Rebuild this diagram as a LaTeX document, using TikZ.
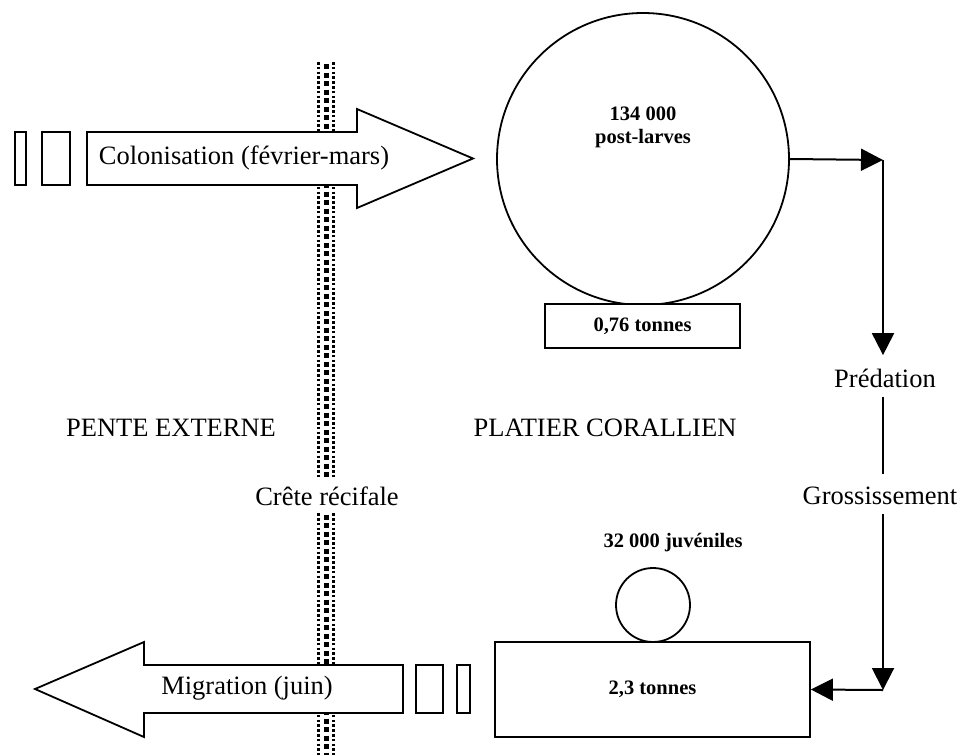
\documentclass[tikz,border=0pt]{standalone}
\usepackage{fontspec}
\setmainfont{Liberation Serif}
\usepackage{tikz}
\usetikzlibrary{arrows.meta, positioning}
\tikzstyle{stock}     = [draw=black, line width=1.8pt, fill=white, text centered]
\tikzstyle{bigtext}   = [font=\fontsize{26.5}{30}\selectfont]
\tikzstyle{smalltext} = [font=\fontsize{20.5}{23}\selectfont\bfseries]
\tikzstyle{bigarrow}  = [draw=black, line width=1.8pt, fill=white, line join=miter]
\tikzstyle{flow}      = [line width=2pt, -{Triangle[length=22pt,width=22pt]}]
\tikzstyle{crestdots} = [line width=2.6pt, dash pattern=on 2.6pt off 2.2pt]
\tikzstyle{crestmid}  = [line width=5pt, dash pattern=on 5pt off 3.5pt]
\tikzset{every node/.style={align=center}}

\begin{document}
\begin{tikzpicture}[x=1pt, y=-1pt]
    \useasboundingbox (0,0) rectangle (963,755);

    % crete recifale
    \draw [crestdots] (318.5,62) -- (318.5,755);
    \draw [crestdots] (333.5,62) -- (333.5,755);
    \draw [crestmid]  (326,64) -- (326,755);

    % colonisation / migration
    \draw [bigarrow] (87,132) -- (357,132) -- (357,109) -- (473,158.5) -- (357,208) -- (357,185) -- (87,185) -- cycle;
    \draw [bigarrow] (403,665) -- (144,665) -- (144,642) -- (35,689) -- (144,737) -- (144,713) -- (403,713) -- cycle;
    \node (colo) at (244,158)  [bigtext] {Colonisation (février-mars)};
    \node (migr) at (247,688)  [bigtext] {Migration (juin)};
    \node (in1)  at (20.5,158.5) [stock, minimum width=11pt, minimum height=53pt] {};
    \node (in2)  at (56,158.5)   [stock, minimum width=28pt, minimum height=53pt] {};
    \node (out1) at (429.5,689)  [stock, minimum width=27pt, minimum height=48pt] {};
    \node (out2) at (463.5,689)  [stock, minimum width=13pt, minimum height=48pt] {};

    % stocks du platier
    \node (larves)   at (643,159)    [stock, circle, minimum size=292pt, inner sep=0pt] {};
    \node (nblarves) at (643,127)    [smalltext] {134 000\\post-larves};
    \node (biom1)    at (642.5,326)  [stock, smalltext, minimum width=195pt, minimum height=44pt] {0,76 tonnes};
    \node (juv)      at (653,605)    [stock, circle, minimum size=74pt, inner sep=0pt] {};
    \node (nbjuv)    at (673,543)    [smalltext] {32 000 juvéniles};
    \node (biom2)    at (652.5,689.5)[stock, smalltext, minimum width=315pt, minimum height=95pt] {2,3 tonnes};

    \node (pente)   at (171,428) [bigtext] {PENTE EXTERNE};
    \node (platier) at (605,428) [bigtext] {PLATIER CORALLIEN};
    \node (crete)   at (327,496) [bigtext, fill=white, inner ysep=7pt] {Crête récifale};
    \node (pred)    at (885,378) [bigtext] {Prédation};
    \node (gross)   at (880,496) [bigtext] {Grossissement};

    \coordinate (c1) at (883,160);
    \coordinate (c2) at (883,690);
    \draw [flow] (larves.east) -- (c1);
    \draw [flow, shorten >=10pt] (c1) -- (c1 |- pred.north);
    \draw [line width=2pt, shorten <=6pt, shorten >=10pt] (c1 |- pred.south) -- (c1 |- gross.north);
    \draw [flow, shorten <=6pt] (c1 |- gross.south) -- (c2);
    \draw [flow] (c2) -- (biom2.east);
\end{tikzpicture}
\end{document}
